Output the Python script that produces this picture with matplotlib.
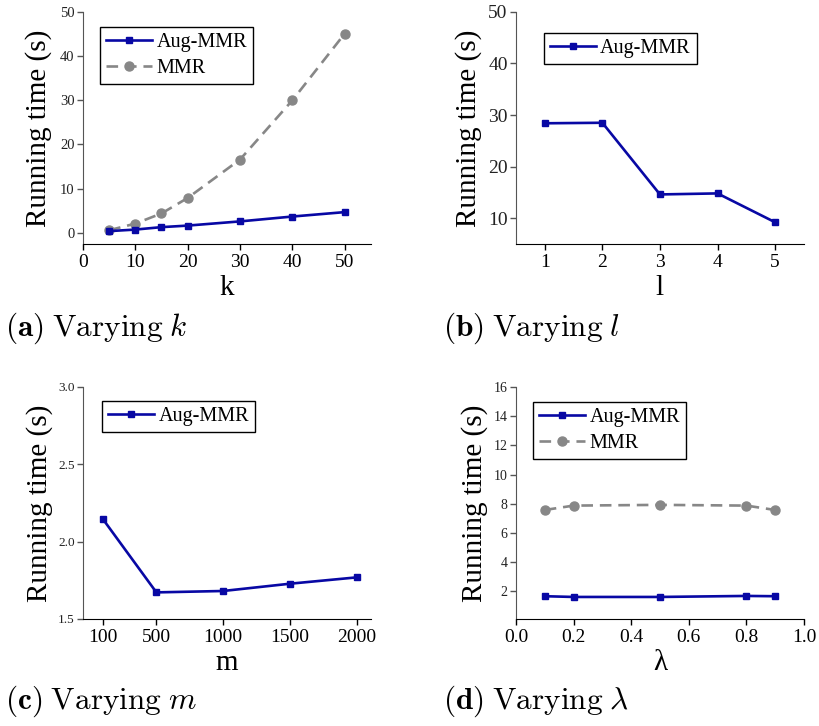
import matplotlib
matplotlib.use('Agg')
import matplotlib.pyplot as plt

plt.rcParams['font.family'] = ['Liberation Serif', 'DejaVu Serif']
plt.rcParams['mathtext.fontset'] = 'cm'

# data
k_vals = [5, 10, 15, 20, 30, 40, 50]
k_aug = [0.4, 0.75, 1.3, 1.65, 2.6, 3.7, 4.7]
k_mmr = [0.6, 2.1, 4.4, 7.9, 16.6, 30.0, 45.1]

l_vals = [1, 2, 3, 4, 5]
l_aug = [28.4, 28.5, 14.6, 14.8, 9.2]

m_vals = [100, 500, 1000, 1500, 2000]
m_aug = [2.145, 1.672, 1.681, 1.728, 1.769]

lam_vals = [0.1, 0.2, 0.5, 0.8, 0.9]
lam_aug = [1.66, 1.61, 1.61, 1.68, 1.66]
lam_mmr = [7.57, 7.87, 7.92, 7.87, 7.57]

BLUE = '#0808a4'
GRAY = '#878787'

fig = plt.figure(figsize=(8.19, 7.26), dpi=100)

W, H = 0.3516, 0.3196
ax_a = fig.add_axes([0.1013, 0.664, W, H])
ax_b = fig.add_axes([0.630, 0.664, W, H])
ax_c = fig.add_axes([0.1013, 0.1474, W, H])
ax_d = fig.add_axes([0.630, 0.1474, W, H])


def plot_aug(ax, x, y):
    ax.plot(x, y, color=BLUE, lw=1.9, marker='s', ms=5, label='Aug-MMR', zorder=3)


def plot_mmr(ax, x, y):
    ax.plot(x, y, color=GRAY, lw=1.9, ls=(0, (4.4, 2.6)), marker='o', ms=6.5,
            label='MMR', zorder=2)


def style(ax, ysize, xsize, ylab_x, xlabel, leg_anchor):
    for s in ['top', 'right']:
        ax.spines[s].set_visible(False)
    ax.spines['left'].set_color('#555555')
    ax.spines['bottom'].set_color('black')
    ax.tick_params(axis='y', colors='#555555', labelcolor='#222222',
                   labelsize=ysize, length=4, width=1, pad=2)
    ax.tick_params(axis='x', colors='black', labelsize=xsize, length=4, width=1, pad=3)
    ax.set_ylabel('Running time (s)', fontsize=21)
    ax.yaxis.set_label_coords(ylab_x, 0.5)
    ax.set_xlabel(xlabel, fontsize=21, labelpad=3)
    leg = ax.legend(loc='upper left', bbox_to_anchor=leg_anchor, borderaxespad=0,
                    fontsize=14.5, fancybox=False, framealpha=1, edgecolor='black',
                    handlelength=2.3, handletextpad=0.2, labelspacing=0.35,
                    borderpad=0.3)
    leg.get_frame().set_linewidth(1.0)


# (a) varying k
plot_aug(ax_a, k_vals, k_aug)
plot_mmr(ax_a, k_vals, k_mmr)
ax_a.set_xlim(0, 55)
ax_a.set_ylim(-2.5, 50)
ax_a.set_xticks([0, 10, 20, 30, 40, 50])
ax_a.set_yticks([0, 10, 20, 30, 40, 50])
style(ax_a, 10.5, 14, -0.108, 'k', (0.059, 0.935))

# (b) varying l
plot_aug(ax_b, l_vals, l_aug)
ax_b.set_xlim(0.5, 5.5)
ax_b.set_ylim(5, 50)
ax_b.set_xticks(l_vals)
ax_b.set_yticks([10, 20, 30, 40, 50])
style(ax_b, 14, 14, -0.118, 'l', (0.097, 0.909))

# (c) varying m
plot_aug(ax_c, m_vals, m_aug)
ax_c.set_xlim(-50, 2107)
ax_c.set_ylim(1.5, 3.0)
ax_c.set_xticks(m_vals)
ax_c.set_yticks([1.5, 2.0, 2.5, 3.0])
style(ax_c, 9.5, 14, -0.104, 'm', (0.066, 0.94))

# (d) varying lambda
plot_aug(ax_d, lam_vals, lam_aug)
plot_mmr(ax_d, lam_vals, lam_mmr)
ax_d.set_xlim(0, 1.0)
ax_d.set_ylim(0.1, 16)
ax_d.set_xticks([0.0, 0.2, 0.4, 0.6, 0.8, 1.0])
ax_d.set_yticks([2, 4, 6, 8, 10, 12, 14, 16])
style(ax_d, 10, 14, -0.097, 'λ', (0.059, 0.935))

# sub-captions
cap_kw = dict(fontsize=22.5, va='center', ha='left')
fig.text(5 / 819, 1 - 328 / 726, r'$\mathbf{(a)}$ $\mathrm{Varying}$ $k$', **cap_kw)
fig.text(443 / 819, 1 - 328 / 726, r'$\mathbf{(b)}$ $\mathrm{Varying}$ $l$', **cap_kw)
fig.text(5 / 819, 1 - 701 / 726, r'$\mathbf{(c)}$ $\mathrm{Varying}$ $m$', **cap_kw)
fig.text(443 / 819, 1 - 701 / 726, r'$\mathbf{(d)}$ $\mathrm{Varying}$ $\lambda$', **cap_kw)

fig.savefig('out.png', dpi=100)
